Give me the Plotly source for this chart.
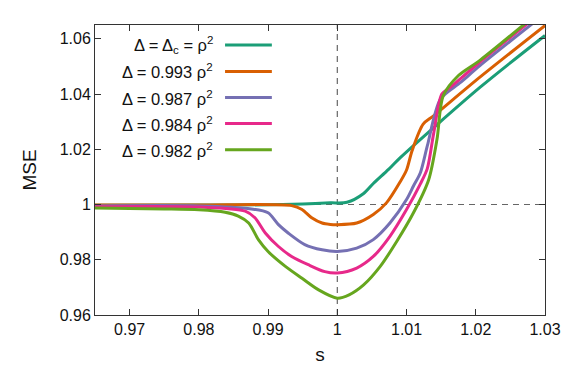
import plotly.graph_objects as go

# ---- data ----
s_c = [0.965, 0.98, 0.99, 0.995, 0.999, 1.0014, 1.0038, 1.0052, 1.0074, 1.0091, 1.0206, 1.03]
mse_c = [0.9997, 0.9998, 0.9999, 1.0002, 1.0006, 1.0008, 1.0040, 1.0076, 1.0127, 1.0170, 1.0424, 1.0612]

s_993 = [0.965, 0.98, 0.9934, 0.9949, 0.9963, 0.9978, 0.999, 1.0, 1.0028, 1.0052, 1.0071, 1.0091, 1.0100, 1.0108, 1.0124, 1.0139, 1.0206, 1.03]
mse_993 = [0.9998, 0.9998, 0.9996, 0.9982, 0.9952, 0.9933, 0.9928, 0.9927, 0.9933, 0.9964, 1.0006, 1.0083, 1.0125, 1.0195, 1.0291, 1.0321, 1.0461, 1.0648]

s_987 = [0.965, 0.98, 0.9876, 0.99, 0.9915, 0.9929, 0.9953, 0.9978, 1.0, 1.0028, 1.0052, 1.0076, 1.0100, 1.0110, 1.0120, 1.0130, 1.0149, 1.0178, 1.0206, 1.03]
mse_987 = [0.9995, 0.9995, 0.9984, 0.9970, 0.9927, 0.9897, 0.9855, 0.9836, 0.9830, 0.9842, 0.9873, 0.9933, 1.0018, 1.0067, 1.0115, 1.0212, 1.0382, 1.0442, 1.0503, 1.0691]

s_984 = [0.965, 0.98, 0.9867, 0.9881, 0.9896, 0.9915, 0.9934, 0.9958, 0.9982, 1.0, 1.0028, 1.0052, 1.0076, 1.0100, 1.0120, 1.0130, 1.0139, 1.0151, 1.0163, 1.0206, 1.03]
mse_984 = [0.9992, 0.9991, 0.9976, 0.9952, 0.9897, 0.9848, 0.9812, 0.9782, 0.9757, 0.9752, 0.9770, 0.9812, 0.9885, 0.9982, 1.0075, 1.0130, 1.0255, 1.0400, 1.0424, 1.0516, 1.0706]

s_982 = [0.965, 0.975, 0.98, 0.9838, 0.9857, 0.9872, 0.9886, 0.99, 0.9925, 0.9949, 0.9973, 1.0, 1.0017, 1.0038, 1.0062, 1.0086, 1.011, 1.0132, 1.0144, 1.0153, 1.0175, 1.0206, 1.03]
mse_982 = [0.9987, 0.9984, 0.9981, 0.9972, 0.9958, 0.9933, 0.9873, 0.9830, 0.9776, 0.9733, 0.9691, 0.9661, 0.9673, 0.9709, 0.9776, 0.9867, 0.9970, 1.0090, 1.0236, 1.0394, 1.0467, 1.0522, 1.0715]

labels = ["Δ = Δ<sub>c</sub> = ρ<sup>2</sup>", "Δ = 0.993 ρ<sup>2</sup>", "Δ = 0.987 ρ<sup>2</sup>",
          "Δ = 0.984 ρ<sup>2</sup>", "Δ = 0.982 ρ<sup>2</sup>"]
colors = ["#1b9e77", "#d95f02", "#7570b3", "#e7298a", "#66a61e"]
series = [(s_c, mse_c), (s_993, mse_993), (s_987, mse_987), (s_984, mse_984), (s_982, mse_982)]

x_ticks = [0.97, 0.98, 0.99, 1.0, 1.01, 1.02, 1.03]
x_ticktext = ["0.97", "0.98", "0.99", "1", "1.01", "1.02", "1.03"]
y_ticks = [0.96, 0.98, 1.0, 1.02, 1.04, 1.06]
y_ticktext = ["0.96", "0.98", "1", "1.02", "1.04", "1.06"]

fig = go.Figure()

# reference dashed lines
fig.add_trace(go.Scatter(x=[0.965, 1.03], y=[1.0, 1.0], mode="lines",
                         line=dict(color="#666666", width=1.2, dash="6px,5px"),
                         showlegend=False, hoverinfo="skip"))
fig.add_trace(go.Scatter(x=[1.0, 1.0], y=[0.96, 1.065], mode="lines",
                         line=dict(color="#666666", width=1.2, dash="6px,5px"),
                         showlegend=False, hoverinfo="skip"))

for (sx, my), c, lab in zip(series, colors, labels):
    fig.add_trace(go.Scatter(x=sx, y=my, mode="lines", name=lab,
                             line=dict(color=c, width=3, shape="spline", smoothing=0.8),
                             showlegend=False))

# legend drawn manually (text left of the sample line)
leg_y = [0.931, 0.840, 0.750, 0.660, 0.570]
for yy, c, lab in zip(leg_y, colors, labels):
    fig.add_annotation(x=0.267, y=yy, xref="paper", yref="paper", text=lab,
                       showarrow=False, xanchor="right", yanchor="middle",
                       font=dict(size=16.5, color="#111111"))
    fig.add_shape(type="line", xref="paper", yref="paper",
                  x0=0.289, x1=0.393, y0=yy, y1=yy,
                  line=dict(color=c, width=3))

fig.update_layout(
    width=577, height=375,
    margin=dict(l=95, r=32, t=25, b=60),
    paper_bgcolor="white", plot_bgcolor="white",
    font=dict(family="Liberation Sans, Arial, sans-serif", size=16, color="#111111"),
    showlegend=False,
)
fig.update_xaxes(range=[0.965, 1.03], tickvals=x_ticks, ticktext=x_ticktext,
                 ticks="inside", ticklen=6, tickcolor="#333333", mirror="ticks",
                 showline=True, linecolor="#333333", linewidth=1, showgrid=False,
                 zeroline=False, automargin=False,
                 title=dict(text="s", standoff=10))
fig.update_yaxes(range=[0.96, 1.065], tickvals=y_ticks, ticktext=y_ticktext,
                 ticks="inside", ticklen=6, tickcolor="#333333", mirror="ticks",
                 showline=True, linecolor="#333333", linewidth=1, showgrid=False,
                 zeroline=False, automargin=False,
                 title=dict(text="MSE", standoff=18))

fig.write_html("out.html", config={"displayModeBar": False},
               post_script="document.body.style.margin='0';")
